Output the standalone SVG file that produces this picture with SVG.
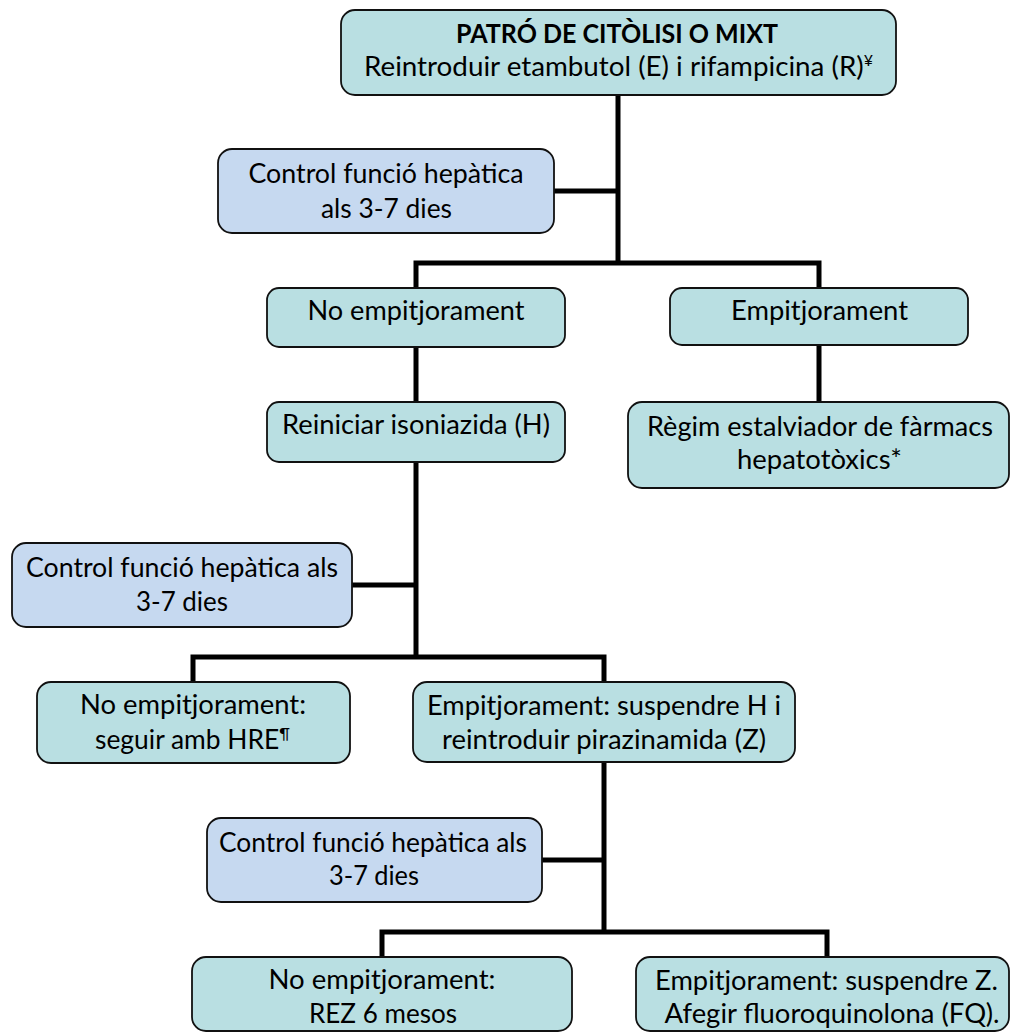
<svg xmlns="http://www.w3.org/2000/svg" width="1011" height="1034" viewBox="0 0 1011 1034">
<style>
.teal{fill:#b9dfe2;stroke:#111;stroke-width:1.8}
.blue{fill:#c6d9f0;stroke:#111;stroke-width:1.8}
.t{font-family:Lato,"Liberation Sans",sans-serif;font-size:26px;fill:#000;text-anchor:middle}
.b{font-weight:bold}
.sup{font-size:15px}
.conn{stroke:#000;stroke-width:5;fill:none;stroke-linecap:square}
</style>
<rect width="1011" height="1034" fill="#fff"/>
<g id="connectors">
<path class="conn" d="M618,96V263M556,191H618M416,263H819M416,263V287M819,263V287M416,348V401M819,346V401M416,463V657M353,585H416M193,657H604M193,657V681M604,657V681M604,763V932M543,860H604M382,932H827M382,932V956M827,932V956"/>
</g>
<g id="n_top">
<rect class="teal" x="341" y="10" width="555" height="85" rx="14"/>
<text class="t b" x="617" y="43" textLength="322" lengthAdjust="spacingAndGlyphs">PATRÓ DE CITÒLISI O MIXT</text>
<text class="t" x="618.5" y="76" textLength="509" lengthAdjust="spacingAndGlyphs">Reintroduir etambutol (E) i rifampicina (R)<tspan class="sup" dy="-10">¥</tspan></text>
</g>
<g id="n_control1">
<rect class="blue" x="218" y="149" width="336" height="84" rx="14"/>
<text class="t" x="386" y="183" textLength="275" lengthAdjust="spacingAndGlyphs">Control funció hepàtica</text>
<text class="t" x="386.5" y="218" textLength="131" lengthAdjust="spacingAndGlyphs">als 3-7 dies</text>
</g>
<g id="n_noemp1">
<rect class="teal" x="267" y="288" width="298" height="59" rx="12"/>
<text class="t" x="416" y="320" textLength="217" lengthAdjust="spacingAndGlyphs">No empitjorament</text>
</g>
<g id="n_emp1">
<rect class="teal" x="670" y="288" width="298" height="57" rx="12"/>
<text class="t" x="819.5" y="320" textLength="177" lengthAdjust="spacingAndGlyphs">Empitjorament</text>
</g>
<g id="n_reiniciar">
<rect class="teal" x="267" y="402" width="298" height="60" rx="12"/>
<text class="t" x="416" y="434" textLength="268" lengthAdjust="spacingAndGlyphs">Reiniciar isoniazida (H)</text>
</g>
<g id="n_regim">
<rect class="teal" x="628" y="402" width="381" height="86" rx="14"/>
<text class="t" x="820" y="436" textLength="346" lengthAdjust="spacingAndGlyphs">Règim estalviador de fàrmacs</text>
<text class="t" x="819.5" y="469" textLength="165" lengthAdjust="spacingAndGlyphs">hepatotòxics*</text>
</g>
<g id="n_control2">
<rect class="blue" x="12" y="543" width="340" height="84" rx="14"/>
<text class="t" x="182" y="577" textLength="312" lengthAdjust="spacingAndGlyphs">Control funció hepàtica als</text>
<text class="t" x="182" y="611" textLength="92" lengthAdjust="spacingAndGlyphs">3-7 dies</text>
</g>
<g id="n_noemp2">
<rect class="teal" x="37" y="682" width="313" height="81" rx="14"/>
<text class="t" x="193" y="714" textLength="226" lengthAdjust="spacingAndGlyphs">No empitjorament:</text>
<text class="t" x="192.5" y="749" textLength="195" lengthAdjust="spacingAndGlyphs">seguir amb HRE<tspan class="sup" dy="-10">¶</tspan></text>
</g>
<g id="n_emp2">
<rect class="teal" x="413" y="682" width="382" height="80" rx="14"/>
<text class="t" x="604" y="715" textLength="354" lengthAdjust="spacingAndGlyphs">Empitjorament: suspendre H i</text>
<text class="t" x="604" y="749" textLength="324" lengthAdjust="spacingAndGlyphs">reintroduir pirazinamida (Z)</text>
</g>
<g id="n_control3">
<rect class="blue" x="207" y="818" width="335" height="84" rx="14"/>
<text class="t" x="373" y="852" textLength="308" lengthAdjust="spacingAndGlyphs">Control funció hepàtica als</text>
<text class="t" x="374" y="885" textLength="90" lengthAdjust="spacingAndGlyphs">3-7 dies</text>
</g>
<g id="n_rez">
<rect class="teal" x="192" y="957" width="380" height="74" rx="14"/>
<text class="t" x="382" y="989" textLength="227" lengthAdjust="spacingAndGlyphs">No empitjorament:</text>
<text class="t" x="383" y="1023" textLength="148" lengthAdjust="spacingAndGlyphs">REZ 6 mesos</text>
</g>
<g id="n_emp3">
<rect class="teal" x="636" y="957" width="373" height="74" rx="14"/>
<text class="t" x="826.5" y="990" textLength="343" lengthAdjust="spacingAndGlyphs">Empitjorament: suspendre Z.</text>
<text class="t" x="832" y="1023" textLength="335" lengthAdjust="spacingAndGlyphs">Afegir fluoroquinolona (FQ).</text>
</g>
</svg>
